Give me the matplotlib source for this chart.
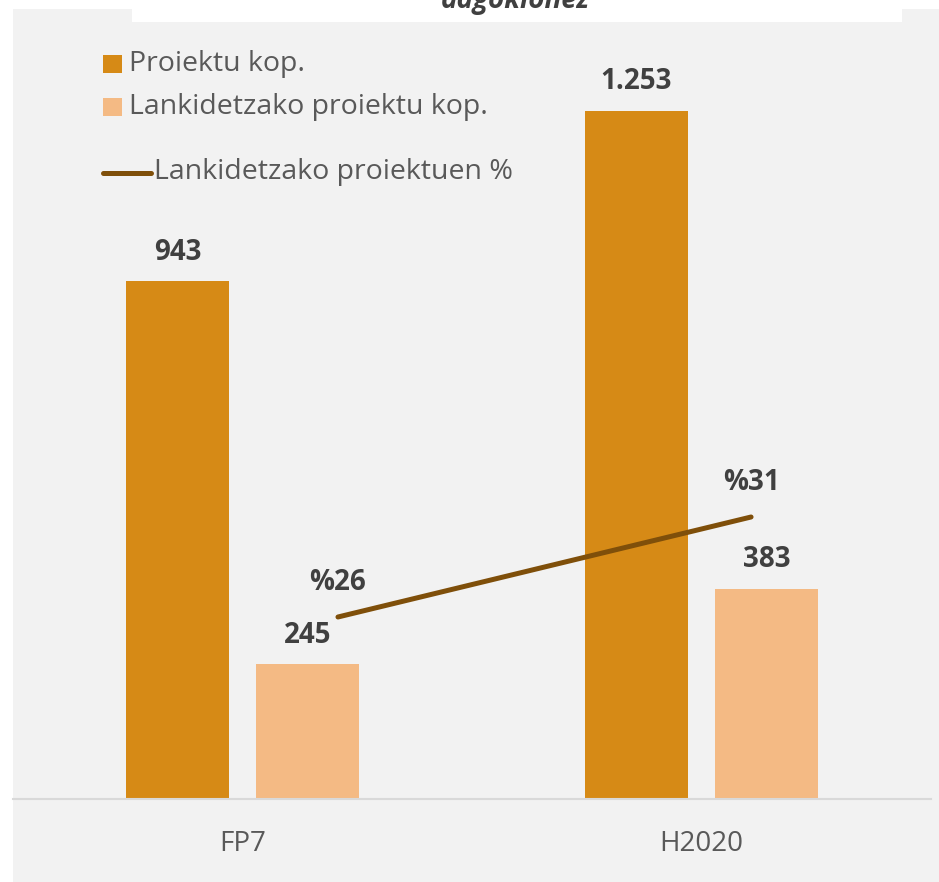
import matplotlib
matplotlib.use("Agg")
import matplotlib.pyplot as plt
from matplotlib.patches import Rectangle
from matplotlib.lines import Line2D

# data
categories = ["FP7", "H2020"]
projects = [943, 1253]
collab_projects = [245, 383]
collab_pct = [26, 31]
project_labels = ["943", "1.253"]
collab_labels = ["245", "383"]

series_names = ["Proiektu kop.", "Lankidetzako proiektu kop.", "Lankidetzako proiektuen %"]

dark = "#D68A16"
light = "#F4BA84"
brown = "#7F4F0A"
panel = "#F2F2F2"

plt.rcParams["font.family"] = ["Open Sans", "DejaVu Sans"]

W, H = 939, 882
fig = plt.figure(figsize=(W / 100, H / 100), dpi=100, facecolor="white")

def px(x, y):
    # figure pixel (from top-left) -> figure fraction
    return x / W, 1 - y / H

# grey panel and the white title box cut at the top
fig.patches.append(Rectangle(px(13, 882), (W - 13) / W, (882 - 9) / H,
                             transform=fig.transFigure, facecolor=panel, edgecolor="none", zorder=-2))
fig.patches.append(Rectangle(px(132, 22), (902 - 132) / W, 22 / H,
                             transform=fig.transFigure, facecolor="white", edgecolor="none", zorder=-1))
fig.text(515 / W, 1 - 8 / H, "dagokionez", ha="center", va="baseline", fontsize=20,
         fontweight="bold", fontstyle="italic", color="#404040")

ax = fig.add_axes([13 / W, (882 - 799) / H, 918 / W, 790 / H])
ax.set_facecolor("none")
x = [0, 1]
w = 0.2244
off = 0.1416
b1 = ax.bar([i - off for i in x], projects, width=w, color=dark, zorder=2)
b2 = ax.bar([i + off for i in x], collab_projects, width=w, color=light, zorder=2)
ax.set_xlim(-0.5, 1.5)
ax.set_ylim(0, 790 / 0.549)

for rect, lab in zip(b1, project_labels):
    ax.annotate(lab, (rect.get_x() + rect.get_width() / 2, rect.get_height()),
                xytext=(0, 21), textcoords="offset points", ha="center", va="center",
                fontsize=20, fontweight="bold", color="#404040")
for rect, lab in zip(b2, collab_labels):
    ax.annotate(lab, (rect.get_x() + rect.get_width() / 2, rect.get_height()),
                xytext=(0, 21), textcoords="offset points", ha="center", va="center",
                fontsize=20, fontweight="bold", color="#404040")

ax.set_xticks(x)
ax.set_xticklabels(categories, fontsize=20, color="#595959")
ax.tick_params(axis="x", length=0, pad=22)
ax.set_yticks([])
for s in ["top", "left", "right"]:
    ax.spines[s].set_visible(False)
ax.spines["bottom"].set_color("#D9D9D9")
ax.spines["bottom"].set_linewidth(1.5)

# percentage line on a secondary axis
ax2 = ax.twinx()
ax2.set_facecolor("none")
line_x = [0.208, 1.108]
ax2.plot(line_x, collab_pct, color=brown, linewidth=3.6, solid_capstyle="round", zorder=3)
ax2.set_ylim(26 - 182 / 20, 26 + 608 / 20)
ax2.set_yticks([])
for s in ax2.spines.values():
    s.set_visible(False)
for xi, p in zip(line_x, collab_pct):
    ax2.annotate("%" + str(p), (xi, p), xytext=(0, 25), textcoords="offset points",
                 ha="center", va="center", fontsize=20, fontweight="bold", color="#404040")

# legend drawn by hand
fs_leg = 20.5
fig.patches.append(Rectangle(px(103, 73), 19 / W, 18 / H, transform=fig.transFigure,
                             facecolor=dark, edgecolor="none", zorder=3))
fig.text(129 / W, 1 - 64 / H, series_names[0], va="center", ha="left", fontsize=fs_leg, color="#595959")
fig.patches.append(Rectangle(px(103, 116), 19 / W, 18 / H, transform=fig.transFigure,
                             facecolor=light, edgecolor="none", zorder=3))
fig.text(129 / W, 1 - 107 / H, series_names[1], va="center", ha="left", fontsize=fs_leg, color="#595959")
fig.lines.append(Line2D([103 / W, 151 / W], [1 - 173 / H, 1 - 173 / H], transform=fig.transFigure,
                        color=brown, linewidth=3.6, solid_capstyle="round"))
fig.text(154 / W, 1 - 172 / H, series_names[2], va="center", ha="left", fontsize=fs_leg, color="#595959")

fig.savefig("out.png", dpi=100, facecolor="white")
